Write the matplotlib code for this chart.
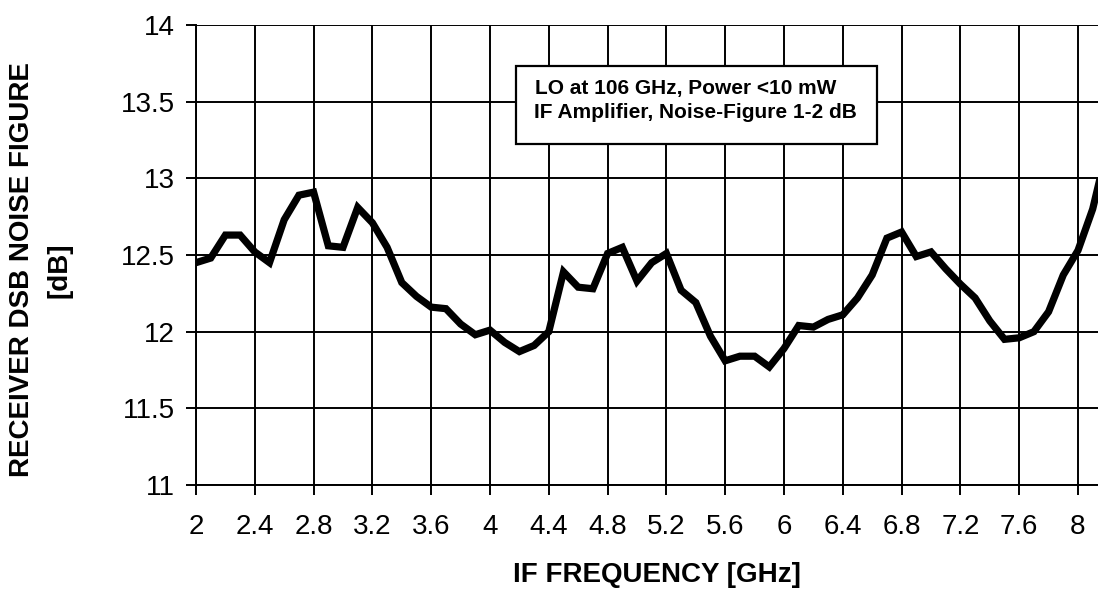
import matplotlib
matplotlib.use("Agg")
import matplotlib.pyplot as plt
from matplotlib.patches import Rectangle

# ── Data ──────────────────────────────────────────────────────────────────────
freq_ghz = [2.0, 2.1, 2.2, 2.3, 2.4, 2.5, 2.6, 2.7, 2.8, 2.9,
            3.0, 3.1, 3.2, 3.3, 3.4, 3.5, 3.6, 3.7, 3.8, 3.9,
            4.0, 4.1, 4.2, 4.3, 4.4, 4.5, 4.6, 4.7, 4.8, 4.9,
            5.0, 5.1, 5.2, 5.3, 5.4, 5.5, 5.6, 5.7, 5.8, 5.9,
            6.0, 6.1, 6.2, 6.3, 6.4, 6.5, 6.6, 6.7, 6.8, 6.9,
            7.0, 7.1, 7.2, 7.3, 7.4, 7.5, 7.6, 7.7, 7.8, 7.9,
            8.0, 8.1, 8.2]
noise_db = [12.45, 12.48, 12.63, 12.63, 12.52, 12.45, 12.73, 12.89, 12.91, 12.56,
            12.55, 12.81, 12.71, 12.55, 12.32, 12.23, 12.16, 12.15, 12.05, 11.98,
            12.01, 11.93, 11.87, 11.91, 12.00, 12.39, 12.29, 12.28, 12.51, 12.55,
            12.33, 12.45, 12.51, 12.27, 12.19, 11.97, 11.81, 11.84, 11.84, 11.77,
            11.89, 12.04, 12.03, 12.08, 12.11, 12.22, 12.37, 12.61, 12.65, 12.49,
            12.52, 12.41, 12.31, 12.22, 12.07, 11.95, 11.96, 12.00, 12.13, 12.37,
            12.53, 12.80, 13.20]

x_ticks = [2, 2.4, 2.8, 3.2, 3.6, 4, 4.4, 4.8, 5.2, 5.6, 6, 6.4, 6.8, 7.2, 7.6, 8]
x_tick_labels = ["2", "2.4", "2.8", "3.2", "3.6", "4", "4.4", "4.8", "5.2",
                 "5.6", "6", "6.4", "6.8", "7.2", "7.6", "8"]
y_ticks = [11, 11.5, 12, 12.5, 13, 13.5, 14]
y_tick_labels = ["11", "11.5", "12", "12.5", "13", "13.5", "14"]

note_lines = ["LO at 106 GHz, Power <10 mW", "IF Amplifier, Noise-Figure 1-2 dB"]

# ── Figure ────────────────────────────────────────────────────────────────────
plt.rcParams["font.family"] = ["Liberation Sans", "DejaVu Sans"]

W, H = 1098, 591
fig = plt.figure(figsize=(W / 100, H / 100), dpi=100)
fig.patch.set_facecolor("white")

# axes left edge at px 196, runs past the right edge of the (cropped) picture
ax = fig.add_axes([196 / W, 1 - 485 / H, (W - 196) / W, 460 / H])
ax.set_xlim(2, 2 + (W - 196) / 147.0)
ax.set_ylim(11, 14)

ax.set_xticks(x_ticks)
ax.set_xticklabels(x_tick_labels)
ax.set_yticks(y_ticks)
ax.set_yticklabels(y_tick_labels)
ax.tick_params(axis="both", direction="out", length=7, width=1.4, colors="black",
               labelsize=20)
ax.tick_params(axis="x", pad=14)
ax.tick_params(axis="y", pad=8)

ax.grid(True, color="black", linewidth=1.4)
ax.set_axisbelow(True)
for side in ["top", "right"]:
    ax.spines[side].set_visible(False)
for side in ["left", "bottom"]:
    ax.spines[side].set_linewidth(1.4)

ax.plot(freq_ghz, noise_db, color="black", linewidth=5.2, solid_joinstyle="miter",
        clip_on=True, zorder=3)

# note box
box = Rectangle((4.18, 13.225), 2.45, 0.505, facecolor="white", edgecolor="black",
                linewidth=1.6, zorder=4)
ax.add_patch(box)
ax.text(5.33, 13.585, note_lines[0], ha="center", va="center", fontsize=15,
        fontweight="bold", zorder=5)
ax.text(5.40, 13.43, note_lines[1], ha="center", va="center", fontsize=15,
        fontweight="bold", zorder=5)

# axis labels
fig.text(657 / W, 1 - 575 / H, "IF FREQUENCY [GHz]", ha="center", va="center",
         fontsize=20, fontweight="bold")
fig.text(22 / W, 1 - 270 / H, "RECEIVER DSB NOISE FIGURE", ha="center", va="center",
         rotation=90, fontsize=20, fontweight="bold")
fig.text(59 / W, 1 - 270 / H, "[dB]", ha="center", va="center",
         rotation=90, fontsize=20, fontweight="bold")

fig.savefig("out.png", dpi=100, facecolor=fig.get_facecolor())
